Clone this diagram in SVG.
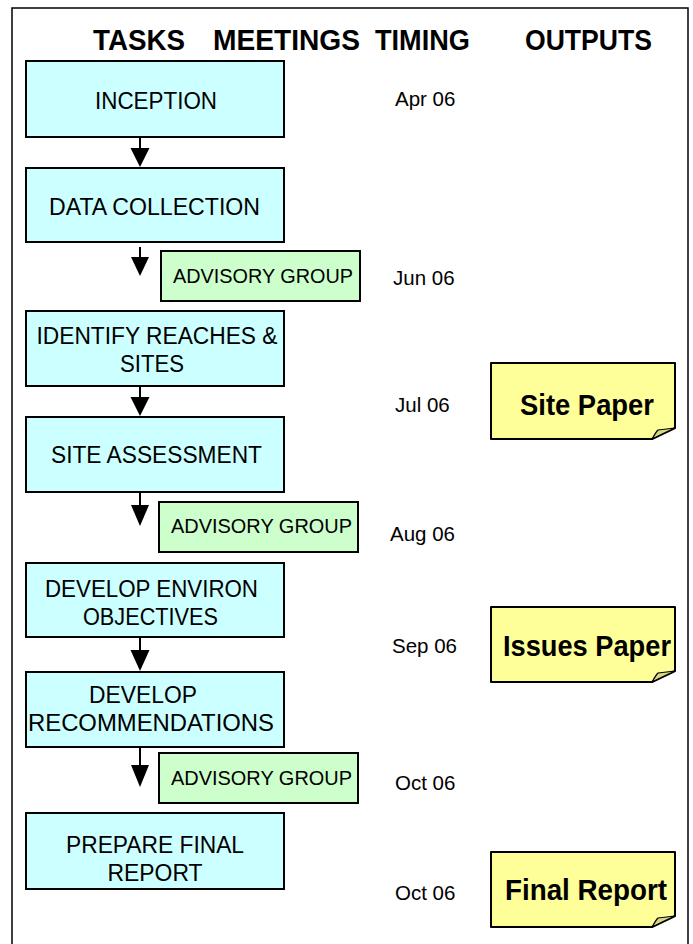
<svg xmlns="http://www.w3.org/2000/svg" width="693" height="944" viewBox="0 0 693 944">
<defs>
<style>
.frame{fill:#fff;stroke:#000;stroke-width:1.5}
.task rect{fill:#ccffff;stroke:#000;stroke-width:2}
.meet rect{fill:#ccffcc;stroke:#000;stroke-width:2}
.note .pg{fill:#ffff99;stroke:#000;stroke-width:2;stroke-linejoin:round}
.note .fold{fill:#d8d880;stroke:#000;stroke-width:1.2;stroke-linejoin:round}
text{font-family:"Liberation Sans",Arial,sans-serif;fill:#000}
.hd{font-size:29px;font-weight:bold}
.tt{font-size:24.5px;text-anchor:middle}
.mt{font-size:20px;text-anchor:middle}
.tm{font-size:20.5px}
.nt{font-size:29px;font-weight:bold;text-anchor:middle}
.conn line{stroke:#000;stroke-width:2}
.conn polygon{fill:#000}
</style>
</defs>
<rect x="0" y="0" width="693" height="944" fill="#fff"/>
<rect class="frame" x="12" y="8" width="676" height="950"/>

<g id="headers">
<text class="hd" x="93" y="50" textLength="92" lengthAdjust="spacingAndGlyphs">TASKS</text>
<text class="hd" x="213" y="50" textLength="147" lengthAdjust="spacingAndGlyphs">MEETINGS</text>
<text class="hd" x="375" y="50" textLength="95" lengthAdjust="spacingAndGlyphs">TIMING</text>
<text class="hd" x="525" y="50" textLength="127" lengthAdjust="spacingAndGlyphs">OUTPUTS</text>
</g>

<g class="conn" id="connectors">
<line x1="140" y1="137" x2="140" y2="149"/>
<polygon points="130.5,148 149.5,148 140,167"/>
<line x1="140" y1="247" x2="140" y2="258"/>
<polygon points="131,257 149,257 140,276"/>
<line x1="140" y1="386" x2="140" y2="398"/>
<polygon points="130.5,397 149.5,397 140,416"/>
<line x1="140" y1="493" x2="140" y2="506"/>
<polygon points="131,505 149,505 140,526"/>
<line x1="140" y1="637" x2="140" y2="651"/>
<polygon points="130.5,650 149.5,650 140,671"/>
<line x1="140" y1="748" x2="140" y2="766"/>
<polygon points="131,765 149,765 140,787"/>
</g>

<g class="task" id="inception">
<rect x="26" y="61" width="258" height="76"/>
<text class="tt" x="156" y="109" textLength="122" lengthAdjust="spacingAndGlyphs">INCEPTION</text>
</g>
<g class="task" id="data-collection">
<rect x="26" y="168" width="258" height="74"/>
<text class="tt" x="154.5" y="215" textLength="211" lengthAdjust="spacingAndGlyphs">DATA COLLECTION</text>
</g>
<g class="meet" id="advisory-1">
<rect x="161" y="251" width="199" height="50"/>
<text class="mt" x="263" y="283" textLength="180" lengthAdjust="spacingAndGlyphs">ADVISORY GROUP</text>
</g>
<g class="task" id="identify">
<rect x="26" y="311" width="258" height="75"/>
<text class="tt" x="157" y="344" textLength="241" lengthAdjust="spacingAndGlyphs">IDENTIFY REACHES &amp;</text>
<text class="tt" x="152" y="372" textLength="64" lengthAdjust="spacingAndGlyphs">SITES</text>
</g>
<g class="task" id="site-assessment">
<rect x="26" y="417" width="258" height="75"/>
<text class="tt" x="156.5" y="463" textLength="211" lengthAdjust="spacingAndGlyphs">SITE ASSESSMENT</text>
</g>
<g class="meet" id="advisory-2">
<rect x="159" y="502" width="199" height="50"/>
<text class="mt" x="261.5" y="533" textLength="181" lengthAdjust="spacingAndGlyphs">ADVISORY GROUP</text>
</g>
<g class="task" id="develop-environ">
<rect x="26" y="563" width="258" height="74"/>
<text class="tt" x="151.5" y="597" textLength="213" lengthAdjust="spacingAndGlyphs">DEVELOP ENVIRON</text>
<text class="tt" x="150.5" y="625" textLength="135" lengthAdjust="spacingAndGlyphs">OBJECTIVES</text>
</g>
<g class="task" id="develop-recommendations">
<rect x="26" y="672" width="258" height="75"/>
<text class="tt" x="143" y="703" textLength="108" lengthAdjust="spacingAndGlyphs">DEVELOP</text>
<text class="tt" x="151" y="731" textLength="246" lengthAdjust="spacingAndGlyphs">RECOMMENDATIONS</text>
</g>
<g class="meet" id="advisory-3">
<rect x="159" y="753" width="199" height="50"/>
<text class="mt" x="261.5" y="785" textLength="181" lengthAdjust="spacingAndGlyphs">ADVISORY GROUP</text>
</g>
<g class="task" id="prepare-final">
<rect x="26" y="813" width="258" height="76"/>
<text class="tt" x="155" y="853" textLength="178" lengthAdjust="spacingAndGlyphs">PREPARE FINAL</text>
<text class="tt" x="155" y="881" textLength="95" lengthAdjust="spacingAndGlyphs">REPORT</text>
</g>

<g id="timing">
<text class="tm" x="395" y="106">Apr 06</text>
<text class="tm" x="393" y="285">Jun 06</text>
<text class="tm" x="395" y="412">Jul 06</text>
<text class="tm" x="390" y="541">Aug 06</text>
<text class="tm" x="392" y="653">Sep 06</text>
<text class="tm" x="395" y="790">Oct 06</text>
<text class="tm" x="395" y="900">Oct 06</text>
</g>

<g class="note" id="site-paper">
<polygon class="pg" points="491,363 675,363 675,428 652,439 491,439"/>
<path class="fold" d="M652,439 Q656,432 658,430 L675,428 Q664,433 652,439 Z"/>
<text class="nt" x="587" y="415" textLength="134" lengthAdjust="spacingAndGlyphs">Site Paper</text>
</g>
<g class="note" id="issues-paper">
<polygon class="pg" points="491,607 675,607 675,671 652,682 491,682"/>
<path class="fold" d="M652,682 Q656,675 658,673 L675,671 Q664,676 652,682 Z"/>
<text class="nt" x="587" y="656" textLength="168" lengthAdjust="spacingAndGlyphs">Issues Paper</text>
</g>
<g class="note" id="final-report">
<polygon class="pg" points="491,852 675,852 675,916 652,927 491,927"/>
<path class="fold" d="M652,927 Q656,920 658,918 L675,916 Q664,921 652,927 Z"/>
<text class="nt" x="586" y="900" textLength="162" lengthAdjust="spacingAndGlyphs">Final Report</text>
</g>
</svg>
